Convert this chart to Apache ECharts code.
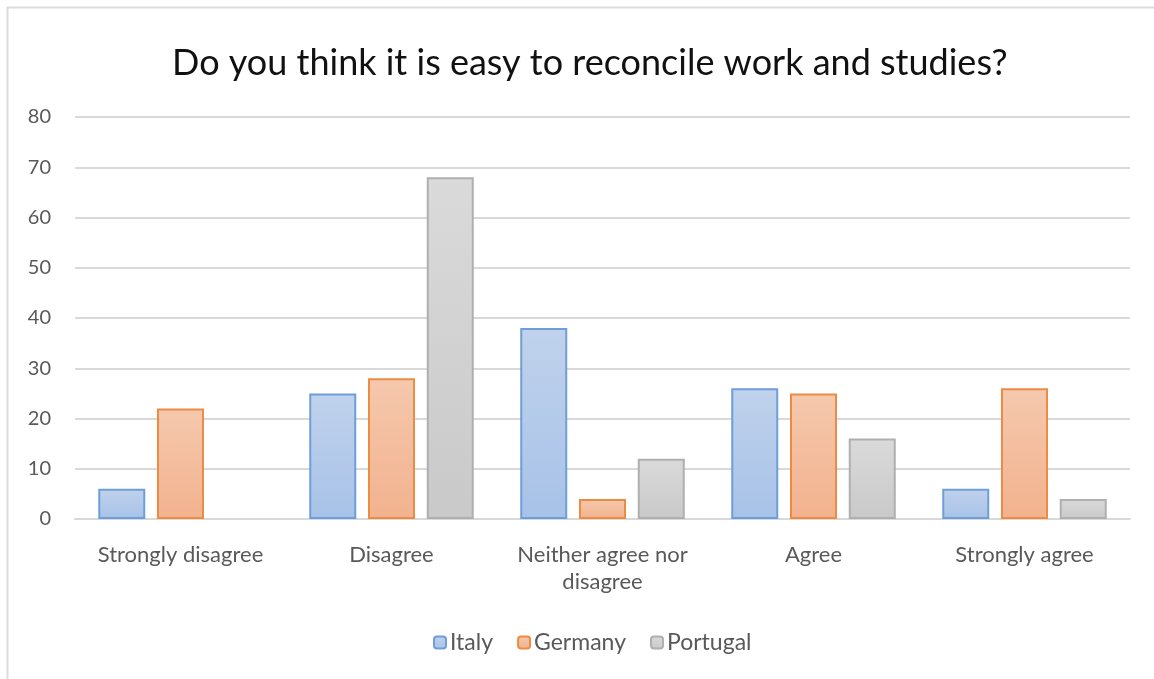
<!DOCTYPE html>
<html>
<head>
<meta charset="utf-8">
<script src="https://cdn.jsdelivr.net/npm/echarts@6/dist/echarts.min.js"></script>
<style>
  html, body { margin: 0; padding: 0; background: #ffffff; }
  #chart { width: 1154px; height: 679px; }
</style>
</head>
<body>
<div id="chart"></div>
<script>
// Survey answers per country
const categories = ['Strongly disagree', 'Disagree', 'Neither agree nor\ndisagree', 'Agree', 'Strongly agree'];
const italy    = [6, 25, 38, 26, 6];
const germany  = [22, 28, 4, 25, 26];
const portugal = [0, 68, 12, 16, 4];
const yTicks = [0, 10, 20, 30, 40, 50, 60, 70, 80];

const FONT = 'Lato, "Open Sans", sans-serif';

function grad(top, bottom) {
  return new echarts.graphic.LinearGradient(0, 0, 0, 1, [
    { offset: 0, color: top },
    { offset: 1, color: bottom }
  ]);
}

const styles = [
  { name: 'Italy',    data: italy,    fill: grad('#c0d2ec', '#a7c2e8'), border: '#6d9ed8' },
  { name: 'Germany',  data: germany,  fill: grad('#f5c8ad', '#f2b28e'), border: '#ec8c44' },
  { name: 'Portugal', data: portugal, fill: grad('#dadada', '#c9c9c9'), border: '#afafaf' }
];

// zero-height bars get no outline so nothing shows on the baseline
const barData = arr => arr.map(v => (v === 0 ? { value: v, itemStyle: { borderWidth: 0 } } : v));

const chart = echarts.init(document.getElementById('chart'), null, { renderer: 'canvas' });

chart.setOption({
  backgroundColor: '#ffffff',
  animation: false,
  graphic: [{
    type: 'rect',
    shape: { x: 7.5, y: 7.5, width: 1160, height: 700 },
    style: { fill: 'none', stroke: '#dcdcdc', lineWidth: 2 },
    silent: true,
    z: -1
  }],
  title: {
    text: 'Do you think it is easy to reconcile work and studies?',
    left: 167,
    top: 40,
    textStyle: { fontFamily: FONT, fontSize: 36, fontWeight: 'normal', color: '#111111' }
  },
  legend: {
    top: 626,
    left: 428,
    itemWidth: 12,
    itemHeight: 12,
    itemGap: 24,
    icon: 'roundRect',
    textStyle: { fontFamily: FONT, fontSize: 23, color: '#595959', padding: [0, 0, 0, -1] },
    data: styles.map(s => s.name)
  },
  grid: { left: 75, right: 24, top: 117, bottom: 160, containLabel: false },
  xAxis: {
    type: 'category',
    data: categories,
    axisLine: { show: true, lineStyle: { color: '#d9d9d9', width: 2 } },
    axisTick: { show: false },
    axisLabel: {
      interval: 0,
      hideOverlap: false,
      fontFamily: FONT, fontSize: 22, color: '#595959', margin: 22, lineHeight: 27
    }
  },
  yAxis: {
    type: 'value',
    min: 0,
    max: 80,
    interval: 10,
    axisLine: { show: false },
    axisTick: { show: false },
    axisLabel: {
      fontFamily: FONT, fontSize: 20, color: '#595959', margin: 24,
      formatter: v => (yTicks.includes(v) ? String(v) : '')
    },
    splitLine: { lineStyle: { color: '#d9d9d9', width: 2 } }
  },
  series: styles.map(s => ({
    name: s.name,
    type: 'bar',
    data: barData(s.data),
    barWidth: 47,
    barGap: '25%',
    itemStyle: { color: s.fill, borderColor: s.border, borderWidth: 2 }
  }))
});
</script>
</body>
</html>
